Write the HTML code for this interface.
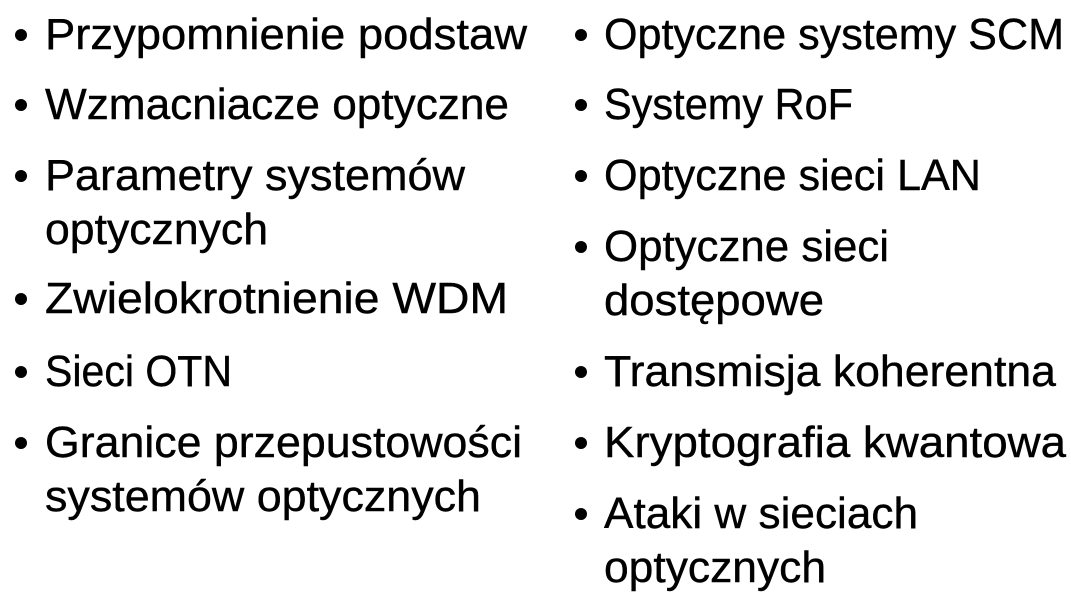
<!DOCTYPE html>
<html><head><meta charset="utf-8"><style>body{margin:0;background:#fff}svg{display:block}</style></head><body>
<svg width="1071" height="593" xmlns="http://www.w3.org/2000/svg" font-family="Liberation Sans, sans-serif" font-size="44" fill="#000" stroke="#000" stroke-width="0.4">
<g stroke="none">
<circle cx="21" cy="35" r="6"/><circle cx="21" cy="105" r="6"/><circle cx="21" cy="176" r="6"/><circle cx="21" cy="299" r="6"/><circle cx="21" cy="372" r="6"/><circle cx="21" cy="443" r="6"/>
<circle cx="581" cy="35" r="6"/><circle cx="581" cy="105" r="6"/><circle cx="581" cy="176" r="6"/><circle cx="581" cy="247" r="6"/><circle cx="581" cy="372" r="6"/><circle cx="581" cy="443" r="6"/><circle cx="581" cy="514" r="6"/>
</g>
<text x="45" y="49" textLength="482" lengthAdjust="spacingAndGlyphs">Przypomnienie podstaw</text>
<text x="45" y="119" textLength="464" lengthAdjust="spacingAndGlyphs">Wzmacniacze optyczne</text>
<text x="45" y="190" textLength="420" lengthAdjust="spacingAndGlyphs">Parametry systemów</text>
<text x="45" y="244" textLength="223" lengthAdjust="spacingAndGlyphs">optycznych</text>
<text x="45" y="313" textLength="463" lengthAdjust="spacingAndGlyphs">Zwielokrotnienie WDM</text>
<text x="45" y="386" textLength="187" lengthAdjust="spacingAndGlyphs">Sieci OTN</text>
<text x="45" y="457" textLength="477" lengthAdjust="spacingAndGlyphs">Granice przepustowości</text>
<text x="45" y="511" textLength="436" lengthAdjust="spacingAndGlyphs">systemów optycznych</text>
<text x="604" y="49" textLength="460" lengthAdjust="spacingAndGlyphs">Optyczne systemy SCM</text>
<text x="604" y="119" textLength="249" lengthAdjust="spacingAndGlyphs">Systemy RoF</text>
<text x="604" y="190" textLength="377" lengthAdjust="spacingAndGlyphs">Optyczne sieci LAN</text>
<text x="604" y="261" textLength="285" lengthAdjust="spacingAndGlyphs">Optyczne sieci</text>
<text x="604" y="315" textLength="220" lengthAdjust="spacingAndGlyphs">dostępowe</text>
<text x="604" y="386" textLength="452" lengthAdjust="spacingAndGlyphs">Transmisja koherentna</text>
<text x="604" y="457" textLength="462" lengthAdjust="spacingAndGlyphs">Kryptografia kwantowa</text>
<text x="604" y="528" textLength="314" lengthAdjust="spacingAndGlyphs">Ataki w sieciach</text>
<text x="604" y="582" textLength="222" lengthAdjust="spacingAndGlyphs">optycznych</text>
</svg>
</body></html>
